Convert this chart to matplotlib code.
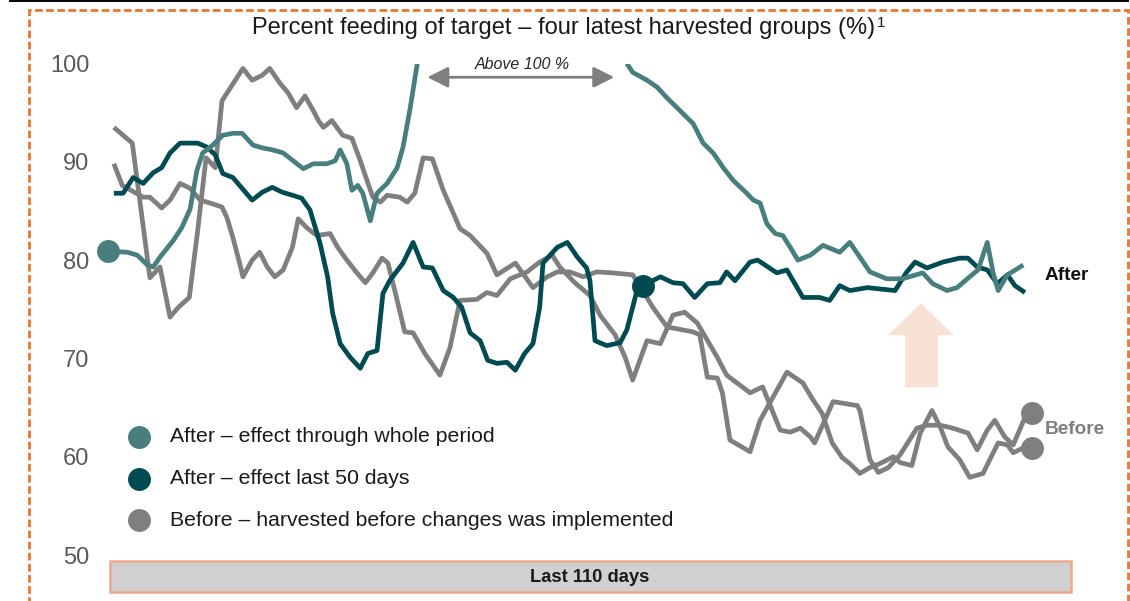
import matplotlib
matplotlib.use('Agg')
import matplotlib.pyplot as plt
import numpy as np
from matplotlib.patches import Polygon, Rectangle
from matplotlib.lines import Line2D

plt.rcParams['font.family'] = ['Liberation Sans', 'DejaVu Sans']
plt.rcParams['lines.scale_dashes'] = False

# ---------------- data (day index, percent of target) ----------------
teal_x = [0.0, 2.3, 3.5, 4.7, 5.4, 6.2, 7.8, 8.8, 9.8, 10.6, 11.3, 12.5, 13.7, 14.9, 16.0, 17.3, 18.5, 19.7, 20.9, 22.1,
          23.3, 24.5, 26.1, 27.1, 27.7, 28.5, 29.1, 29.8, 30.4, 31.3, 32.1, 33.3, 34.5, 35.2, 36.0, 36.9,
          49.4,
          61.9, 62.6, 64.3, 65.5, 66.7, 68.6, 69.8, 71.0, 72.2, 73.4, 74.6, 76.2, 77.0, 77.8, 78.6, 79.6, 80.5, 81.4, 82.3,
          83.8, 85.3, 87.3, 88.5, 89.7, 90.9, 92.9, 94.8, 97.2, 98.4, 100.1, 101.3, 102.8, 103.8, 104.9, 105.6, 106.2,
          107.3, 109.2]
teal_y = [80.9, 80.8, 80.5, 79.5, 79.3, 80.3, 82.0, 83.3, 85.2, 89.1, 90.9, 91.7, 92.7, 92.9, 92.9, 91.7, 91.4, 91.2, 90.9, 90.1,
          89.3, 89.8, 89.8, 90.1, 91.2, 89.8, 87.1, 87.6, 86.8, 84.0, 86.8, 87.8, 89.4, 91.5, 95.2, 100.0,
          np.nan,
          100.0, 99.1, 98.3, 97.6, 96.5, 94.9, 93.9, 91.9, 90.9, 89.4, 88.1, 86.8, 86.1, 85.8, 83.7, 82.7, 82.5, 81.3, 80.0,
          80.5, 81.5, 80.8, 81.8, 80.3, 78.8, 78.1, 78.1, 78.7, 77.6, 76.9, 77.2, 78.3, 79.0, 81.8, 78.7, 76.9,
          78.5, 79.5]

dark_x = [0.7, 1.8, 3.0, 4.2, 5.4, 6.4, 7.4, 8.6, 9.5, 10.7, 11.8, 12.8, 13.7, 14.9, 16.0, 17.2, 18.4, 19.6, 20.8, 22.0,
          23.1, 24.1, 25.3, 26.2, 26.8, 27.7, 28.9, 30.1, 31.0, 32.1, 32.8, 33.6, 35.2, 36.4, 37.6, 38.7, 40.0, 41.2, 42.2, 43.2,
          44.4, 45.3, 46.4, 47.6, 48.6, 49.7, 50.7, 51.5, 51.9, 53.6, 54.8, 56.0, 57.1, 57.5, 58.1, 59.5, 61.1, 61.9, 63.2, 63.8,
          65.9, 67.4, 68.6, 70.0, 71.5, 73.0, 73.8, 74.8, 76.6, 77.5, 79.8, 81.0, 82.9, 84.9, 86.1, 87.3, 88.5, 90.6, 93.9, 95.3,
          96.3, 97.7, 99.6, 101.6, 102.6, 103.7, 104.9, 106.1, 107.3, 108.2, 109.4]
dark_y = [86.8, 86.8, 88.4, 87.8, 88.9, 89.4, 90.9, 91.9, 91.9, 91.9, 91.5, 90.7, 88.8, 88.4, 87.3, 86.1, 86.9, 87.4, 86.9, 86.6,
          86.3, 85.1, 81.7, 78.3, 74.6, 71.5, 70.1, 69.0, 70.5, 70.8, 76.6, 77.9, 79.7, 81.8, 79.3, 79.2, 76.9, 76.2, 75.2, 72.6,
          71.8, 69.8, 69.5, 69.6, 68.8, 70.5, 71.5, 75.2, 79.7, 81.3, 81.8, 80.3, 79.2, 77.9, 71.8, 71.3, 71.6, 72.9, 77.2, 77.4,
          78.3, 77.7, 77.6, 76.2, 77.6, 77.7, 78.8, 77.9, 79.8, 80.0, 78.7, 79.0, 76.2, 76.2, 75.9, 77.4, 76.9, 77.2, 76.9, 78.8,
          79.8, 79.2, 79.8, 80.2, 80.2, 79.3, 79.0, 77.6, 78.5, 77.4, 76.7]
effect_start_day = 63.8

grayA_x = [0.7, 2.9, 5.0, 6.2, 7.4, 8.4, 9.7, 10.7, 11.7, 12.8, 13.6, 14.2, 16.1, 17.2, 18.4, 19.3, 20.5, 21.5, 22.5, 23.5,
           24.5, 25.1, 25.7, 26.7, 28.0, 29.1, 30.1, 30.9, 31.6, 32.5, 33.3, 34.8, 35.7, 36.6, 37.6, 38.7, 40.0, 42.0, 43.2, 45.2,
           46.4, 48.6, 50.7, 52.4, 53.6, 55.1, 56.7, 58.3, 60.2, 62.6, 63.8, 65.0, 66.7, 69.8, 70.6, 71.5, 72.7, 73.3, 74.2, 76.6,
           77.8, 81.0, 82.9, 84.1, 85.2, 86.4, 87.6, 88.5, 89.7, 90.9, 92.1, 93.7, 94.5, 95.9, 96.9, 98.3, 99.3, 100.2, 101.6, 102.8,
           104.4, 105.2, 106.2, 107.3, 108.0, 109.2, 110.2]
grayA_y = [93.5, 91.9, 78.2, 79.3, 74.2, 75.2, 76.2, 83.0, 90.4, 89.4, 96.2, 97.0, 99.5, 98.3, 98.8, 99.5, 98.0, 97.0, 95.5, 96.7,
           95.2, 94.2, 93.5, 94.2, 92.7, 92.4, 90.1, 88.1, 86.4, 85.9, 86.6, 86.4, 85.9, 86.8, 90.4, 90.3, 87.1, 83.2, 82.5, 80.7,
           78.5, 79.7, 77.2, 78.3, 78.8, 78.8, 78.3, 78.8, 78.7, 78.5, 76.9, 75.2, 73.2, 72.7, 72.4, 68.1, 68.0, 66.5, 61.7, 60.5,
           63.7, 68.6, 67.5, 65.8, 64.4, 61.4, 59.9, 59.3, 58.3, 58.9, 59.3, 60.0, 59.4, 59.1, 62.4, 64.7, 63.0, 61.0, 59.7, 57.9,
           58.3, 59.7, 61.4, 61.2, 60.4, 60.9, 60.9]

grayB_x = [0.7, 1.7, 4.2, 5.0, 6.4, 7.4, 8.6, 9.8, 11.0, 12.2, 13.6, 14.2, 14.9, 15.7, 16.1, 17.2, 18.1, 19.0, 19.9, 20.9,
           22.0, 22.7, 23.7, 24.9, 26.5, 27.4, 28.5, 29.7, 30.7, 31.6, 32.7, 33.4, 34.5, 35.4, 36.4, 37.8, 39.6, 40.8, 42.0, 44.0,
           45.2, 46.4, 48.0, 50.0, 51.5, 53.0, 53.9, 55.7, 57.5, 58.7, 60.5, 61.7, 62.6, 64.3, 65.9, 67.4, 68.8, 70.3, 72.7, 73.8,
           76.6, 78.1, 80.2, 81.4, 82.6, 83.8, 84.3, 86.5, 89.4, 89.7, 90.9, 91.9, 93.1, 94.5, 95.4, 96.5, 97.7, 99.3, 100.8, 102.6,
           103.7, 104.9, 105.8, 107.0, 108.0, 109.6, 110.2]
grayB_y = [89.8, 87.6, 86.4, 86.4, 85.3, 86.1, 87.8, 87.3, 86.1, 85.8, 85.4, 84.3, 82.3, 79.7, 78.3, 80.0, 80.8, 79.3, 78.3, 79.0,
           81.3, 84.2, 83.3, 82.5, 82.7, 81.3, 80.0, 78.7, 77.7, 78.7, 80.2, 79.7, 75.9, 72.7, 72.6, 70.5, 68.3, 71.1, 75.9, 76.0,
           76.7, 76.4, 78.1, 78.8, 79.8, 80.5, 79.3, 77.7, 76.4, 74.4, 72.4, 70.1, 67.8, 71.8, 71.5, 74.4, 74.7, 73.6, 70.1, 68.3,
           66.5, 67.1, 62.7, 62.5, 62.9, 62.0, 61.4, 65.6, 65.2, 64.7, 59.7, 58.4, 58.9, 60.2, 61.4, 62.9, 63.2, 63.2, 62.9, 62.4,
           60.7, 62.7, 63.7, 62.0, 61.2, 64.4, 64.4]

y_ticks = [50, 60, 70, 80, 90, 100]
legend_labels = ['After – effect through whole period',
                 'After – effect last 50 days',
                 'Before – harvested before changes was implemented']
title_text = 'Percent feeding of target – four latest harvested groups (%)'
above_range = (38.1, 60.4)
period_label = 'Last 110 days'

# ---------------- styles ----------------
TEAL = '#487F7E'
DARK = '#004B52'
GRAY = '#7F7F7F'
ORANGE = '#E8782F'
PEACH = '#F8E2D6'
LW = 3.4

W, H = 1130, 601
fig = plt.figure(figsize=(W / 100, H / 100), dpi=100)


def fx(px):
    return px / W


def fy(py):
    return 1 - py / H


ax = fig.add_axes([fx(95), fy(600), (1100 - 95) / W, (600 - 63.5) / H])
ax.set_xlim(-1.55, 118.35)
ax.set_ylim(100 - (600 - 63.5) / 9.83, 100)
for s in ax.spines.values():
    s.set_visible(False)
ax.set_xticks([])
ax.set_yticks(y_ticks)
ax.set_yticklabels([str(t) for t in y_ticks])
ax.tick_params(axis='y', length=0, pad=4, labelsize=17, labelcolor='#5A5A5A')
ax.patch.set_alpha(0)

# peach up arrow
arrow_pts = [(93.06, 72.36), (97.0, 75.6), (100.9, 72.36), (99.0, 72.36), (99.0, 67.07), (95.1, 67.07), (95.1, 72.36)]
ax.add_patch(Polygon(arrow_pts, closed=True, facecolor=PEACH, edgecolor='none', zorder=1))

kw = dict(lw=LW, solid_joinstyle='round', solid_capstyle='butt')
ax.plot(grayA_x, grayA_y, color=GRAY, zorder=2, **kw)
ax.plot(grayB_x, grayB_y, color=GRAY, zorder=2, **kw)
ax.plot(dark_x, dark_y, color=DARK, zorder=3, **kw)
ax.plot(teal_x, teal_y, color=TEAL, zorder=4, **kw)

MS = 15.5
ax.plot([teal_x[0]], [teal_y[0]], 'o', ms=MS, color=TEAL, zorder=5, clip_on=False)
i0 = dark_x.index(effect_start_day)
ax.plot([dark_x[i0]], [dark_y[i0]], 'o', ms=MS, color=DARK, zorder=5)
ax.plot([grayA_x[-1]], [grayA_y[-1]], 'o', ms=MS, color=GRAY, zorder=5, clip_on=False)
ax.plot([grayB_x[-1]], [grayB_y[-1]], 'o', ms=MS, color=GRAY, zorder=5, clip_on=False)

# "Above 100 %" annotation
ax.annotate('', xy=(above_range[0], 98.6), xytext=(above_range[1], 98.6),
            arrowprops=dict(arrowstyle='<|-|>,head_length=0.9,head_width=0.45', color=GRAY, lw=2,
                            shrinkA=0, shrinkB=0, mutation_scale=14))
ax.text(sum(above_range) / 2 + 0.2, 99.85, 'Above 100 %', ha='center', va='center', fontsize=11.5,
        style='italic', color='#262626', clip_on=False)

# end labels
fig.text(fx(1045), fy(276), 'After', ha='left', va='center', fontsize=13.7, fontweight='bold', color='#111111')
fig.text(fx(1045), fy(430), 'Before', ha='left', va='center', fontsize=13.7, fontweight='bold', color=GRAY)

# legend
for py, col, lab in zip([437, 479, 520], [TEAL, DARK, GRAY], legend_labels):
    fig.add_artist(Line2D([fx(139)], [fy(py)], marker='o', ms=MS, color=col, linestyle='none',
                          transform=fig.transFigure))
    fig.text(fx(170), fy(py), lab, ha='left', va='center', fontsize=15.3, color='#1A1A1A')

# bottom period bar
fig.add_artist(Rectangle((fx(110), fy(592)), (1071 - 110) / W, (592 - 561) / H, transform=fig.transFigure,
                         facecolor='#D0D0D0', edgecolor='#EFA98A', lw=1.8))
fig.text(fx(590), fy(577), period_label, ha='center', va='center', fontsize=13.2, fontweight='bold', color='#1A1A1A')

# title
t = fig.text(fx(564), fy(28), title_text, ha='center', va='center', fontsize=17, color='#1A1A1A')
fig.canvas.draw()
bb = t.get_window_extent()
fig.text((bb.x1 + 1) / W, (bb.y1 + 1) / H, '1', ha='left', va='top', fontsize=11, color='#1A1A1A')

# frame: top black rule and orange dashed box
fig.add_artist(Line2D([fx(10), fx(1128)], [fy(1), fy(1)], color='black', lw=1.4, transform=fig.transFigure))
fig.add_artist(Rectangle((fx(29), fy(640)), (1128 - 29) / W, (640 - 10) / H, transform=fig.transFigure,
                         facecolor='none', edgecolor=ORANGE, lw=2.0, linestyle=(0, (5.5, 2.5))))

fig.savefig('out.png', dpi=100)
